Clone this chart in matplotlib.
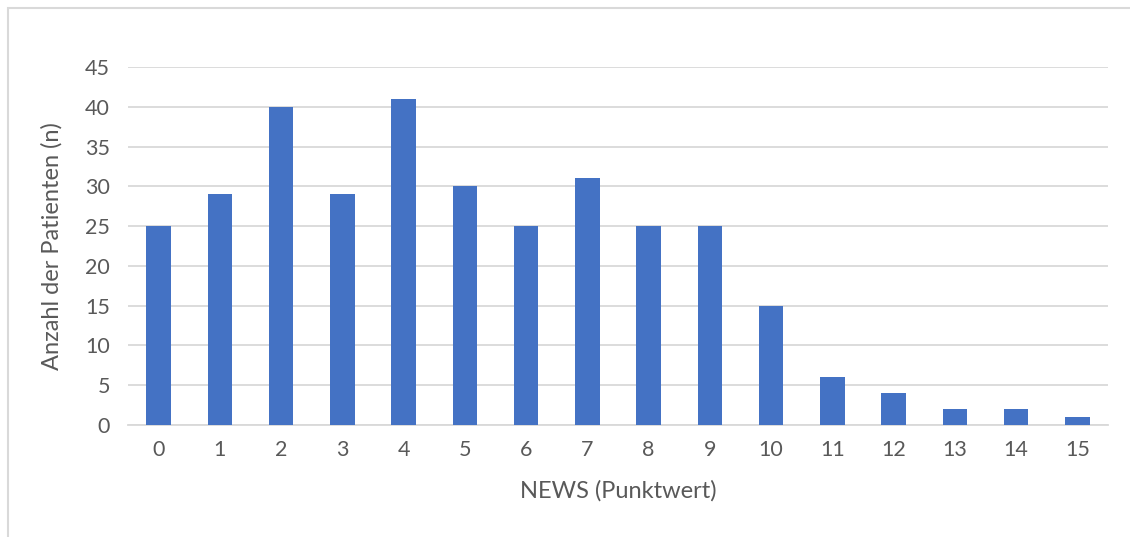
import matplotlib.pyplot as plt
from matplotlib.patches import Rectangle

# NEWS score distribution
scores = [str(s) for s in range(16)]
patients = [25, 29, 40, 29, 41, 30, 25, 31, 25, 25, 15, 6, 4, 2, 2, 1]
y_ticks = [0, 5, 10, 15, 20, 25, 30, 35, 40, 45]

plt.rcParams['font.family'] = ['Lato', 'DejaVu Sans']
text_color = "#595959"
grid_color = "#d9d9d9"

fig = plt.figure(figsize=(11.3, 5.37), dpi=100)
ax = fig.add_axes([128 / 1130, 1 - 425 / 537, 980 / 1130, 358 / 537])

x = range(len(scores))
ax.bar(x, patients, width=0.4, color="#4472c4", zorder=3)

ax.set_xlim(-0.5, len(scores) - 0.5)
ax.set_ylim(0, 45)
ax.set_yticks(y_ticks)
ax.set_xticks(list(x))
ax.set_xticklabels(scores)

ax.grid(axis="y", color=grid_color, linewidth=1.3, zorder=0)
for side in ["top", "right", "left"]:
    ax.spines[side].set_visible(False)
ax.spines["bottom"].set_color(grid_color)
ax.spines["bottom"].set_linewidth(1.3)
ax.tick_params(axis="both", length=0, labelsize=15.5, colors=text_color)
ax.tick_params(axis="x", pad=11)
ax.tick_params(axis="y", pad=13)

ax.set_xlabel("NEWS (Punktwert)", fontsize=17, color=text_color, labelpad=14)
ax.set_ylabel("Anzahl der Patienten (n)", fontsize=17, color=text_color, labelpad=16)

# chart frame
fig.patches.append(Rectangle((8 / 1130, -0.1), 1.2, 1.1 - 8 / 537,
                             transform=fig.transFigure, fill=False,
                             edgecolor=grid_color, linewidth=1.5))

fig.savefig("out.png", dpi=100)
